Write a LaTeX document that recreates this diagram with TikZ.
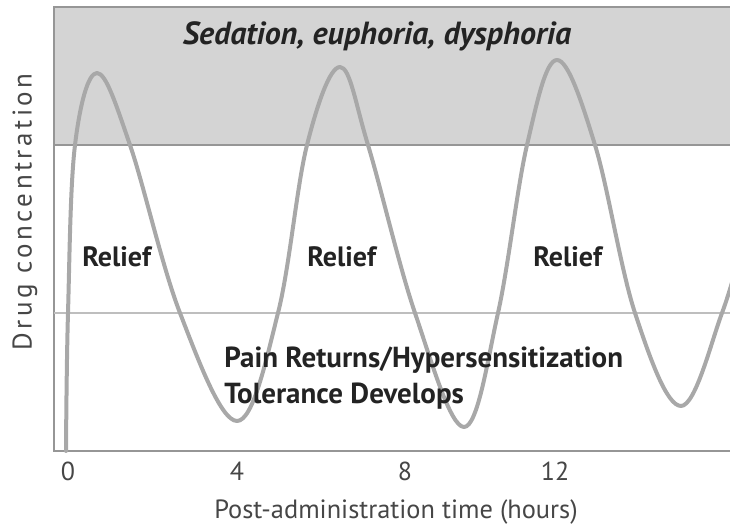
\documentclass[tikz,border=0pt]{standalone}
\usepackage{fontspec}
\setmainfont{PT Sans}
\newfontfamily\spacedfont[LetterSpace=13]{PT Sans}
\usetikzlibrary{positioning}
\definecolor{dcband}{RGB}{212,212,212}
\definecolor{dcedge}{RGB}{150,150,150}
\definecolor{dcline}{RGB}{190,190,190}
\definecolor{dccurve}{RGB}{168,168,168}
\definecolor{dctext}{RGB}{35,35,35}
\definecolor{dcaxis}{RGB}{70,70,70}
\tikzstyle{curve} = [line width=2pt, color=dccurve, line cap=round, line join=round]
\tikzstyle{frame} = [line width=0.6pt, color=dcedge]
\tikzstyle{zone} = [font=\fontsize{14.5}{18}\selectfont\bfseries, text=dctext, inner sep=0pt]
\tikzstyle{tick} = [font=\fontsize{13}{15}\selectfont, text=dcaxis, inner sep=0pt]
\tikzstyle{axislabel} = [font=\fontsize{13.2}{16}\selectfont, text=dcaxis, inner sep=0pt]

\begin{document}
\begin{tikzpicture}[x=0.5pt, y=-0.5pt]
\useasboundingbox (0,0) rectangle (730,528);
% Shaded band and frame
\fill[dcband] (54,7) rectangle (730,145);
\draw[frame] (730,7) -- (54,7) -- (54,451) -- (730,451);
\draw[frame] (54,145) -- (730,145);
\draw[line width=0.8pt, color=dcline] (54,313) -- (730,313);

% Drug concentration curve
\begin{scope}
\clip (0,0) rectangle (730,528);
\draw[curve] plot[smooth, tension=0.6] coordinates {
(66,451) (68,313) (75,145) (97,73) (130,145) (180,313) (237,421)
(278,313) (307,145) (340,67) (368,145) (415,313) (464,427) (498,313)
(527,145) (557,60) (595,145) (635,313) (681,406) (722,313) (745,235)};
\end{scope}

% Labels
\node[zone, font=\fontsize{16}{18}\selectfont\bfseries\itshape] (sedation) at (377,36) {Sedation, euphoria, dysphoria};
\node[zone, font=\fontsize{14}{18}\selectfont\bfseries, anchor=west] (relief1) at (82,257) {Relief};
\node[zone, font=\fontsize{14}{18}\selectfont\bfseries, anchor=west] (relief2) at (307,257) {Relief};
\node[zone, font=\fontsize{14}{18}\selectfont\bfseries, anchor=west] (relief3) at (533,257) {Relief};
\node[zone, anchor=north west, align=left] (pain) at (224,346) {Pain Returns/Hypersensitization\\Tolerance Develops};

% Axes text
\node[tick] (t0) at (68,471) {0};
\node[tick] (t4) at (237,471) {4};
\node[tick] (t8) at (405,471) {8};
\node[tick] (t12) at (555,471) {12};
\node[axislabel] (xlabel) at (396,512) {Post-administration time (hours)};
\node[axislabel, font=\fontsize{13.5}{16}\selectfont\spacedfont, rotate=90] (ylabel) at (25,212) {Drug concentration};
\end{tikzpicture}
\end{document}
